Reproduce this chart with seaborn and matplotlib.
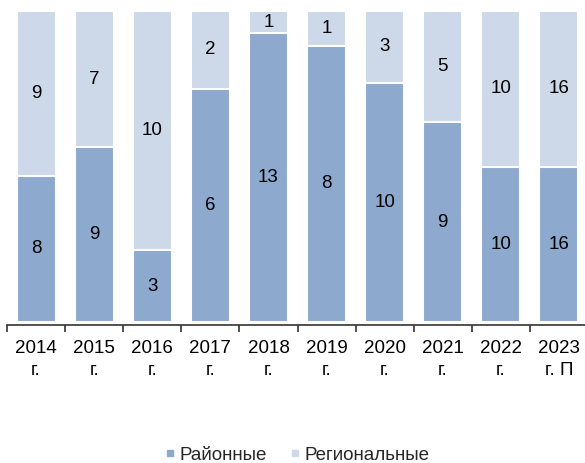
import matplotlib
matplotlib.use("Agg")
import matplotlib.pyplot as plt
import seaborn as sns
import pandas as pd
import numpy as np
from matplotlib.lines import Line2D

years = ["2014\nг.", "2015\nг.", "2016\nг.", "2017\nг.", "2018\nг.",
         "2019\nг.", "2020\nг.", "2021\nг.", "2022\nг.", "2023\nг. П"]
rayonnye = [8, 9, 3, 6, 13, 8, 10, 9, 10, 16]
regionalnye = [9, 7, 10, 2, 1, 1, 3, 5, 10, 16]

c_dark = "#8EA9CE"
c_light = "#CDD9E8"

sns.set_theme(style="white")
plt.rcParams['font.family'] = ['Liberation Sans', 'DejaVu Sans']

tot = np.array(rayonnye) + np.array(regionalnye)
df = pd.DataFrame({
    "year": years,
    "ray": np.array(rayonnye) / tot * 100,
    "total": np.full(len(years), 100.0),
})

fig = plt.figure(figsize=(5.85, 4.63), dpi=100)
ax = fig.add_axes([7 / 585, 1 - 322 / 463, 581 / 585, 311 / 463])

sns.barplot(data=df, x="year", y="total", color=c_light, width=0.67,
            saturation=1, ax=ax, edgecolor="white", linewidth=1.5)
sns.barplot(data=df, x="year", y="ray", color=c_dark, width=0.67,
            saturation=1, ax=ax, edgecolor="white", linewidth=1.5)

fs = 13.5
for i in range(len(years)):
    r = df["ray"][i]
    ax.text(i, r / 2, str(rayonnye[i]), ha="center", va="center", fontsize=fs, color="#000000")
    ax.text(i, r + (100 - r) / 2, str(regionalnye[i]), ha="center", va="center", fontsize=fs, color="#000000")

ax.set_xlim(-0.5, 9.5)
ax.set_ylim(0, 100)
ax.set_xlabel("")
ax.set_ylabel("")
ax.set_yticks([])
for s in ["top", "right", "left"]:
    ax.spines[s].set_visible(False)
ax.spines["bottom"].set_color("#333333")
ax.spines["bottom"].set_linewidth(1.2)
ax.spines["bottom"].set_position(("outward", 2))

ax.set_xticks(np.arange(len(years)))
ax.set_xticklabels(years, fontsize=fs, color="#000000", linespacing=1.4)
ax.tick_params(axis="x", which="major", length=0, pad=11, bottom=True)
ax.set_xticks(np.arange(-0.5, 10, 1), minor=True)
ax.tick_params(axis="x", which="minor", length=5, width=1.2, color="#333333",
               direction="out", bottom=True)

handles = [
    Line2D([], [], marker="s", linestyle="", markersize=5, color=c_dark, label="Районные"),
    Line2D([], [], marker="s", linestyle="", markersize=5, color=c_light, label="Региональные"),
]
fig.legend(handles=handles, loc="center", bbox_to_anchor=(0.505, 1 - 455 / 463), ncol=2,
           frameon=False, fontsize=fs, handletextpad=0.0, columnspacing=1.0, handlelength=1)

fig.savefig("out.png", dpi=100)
